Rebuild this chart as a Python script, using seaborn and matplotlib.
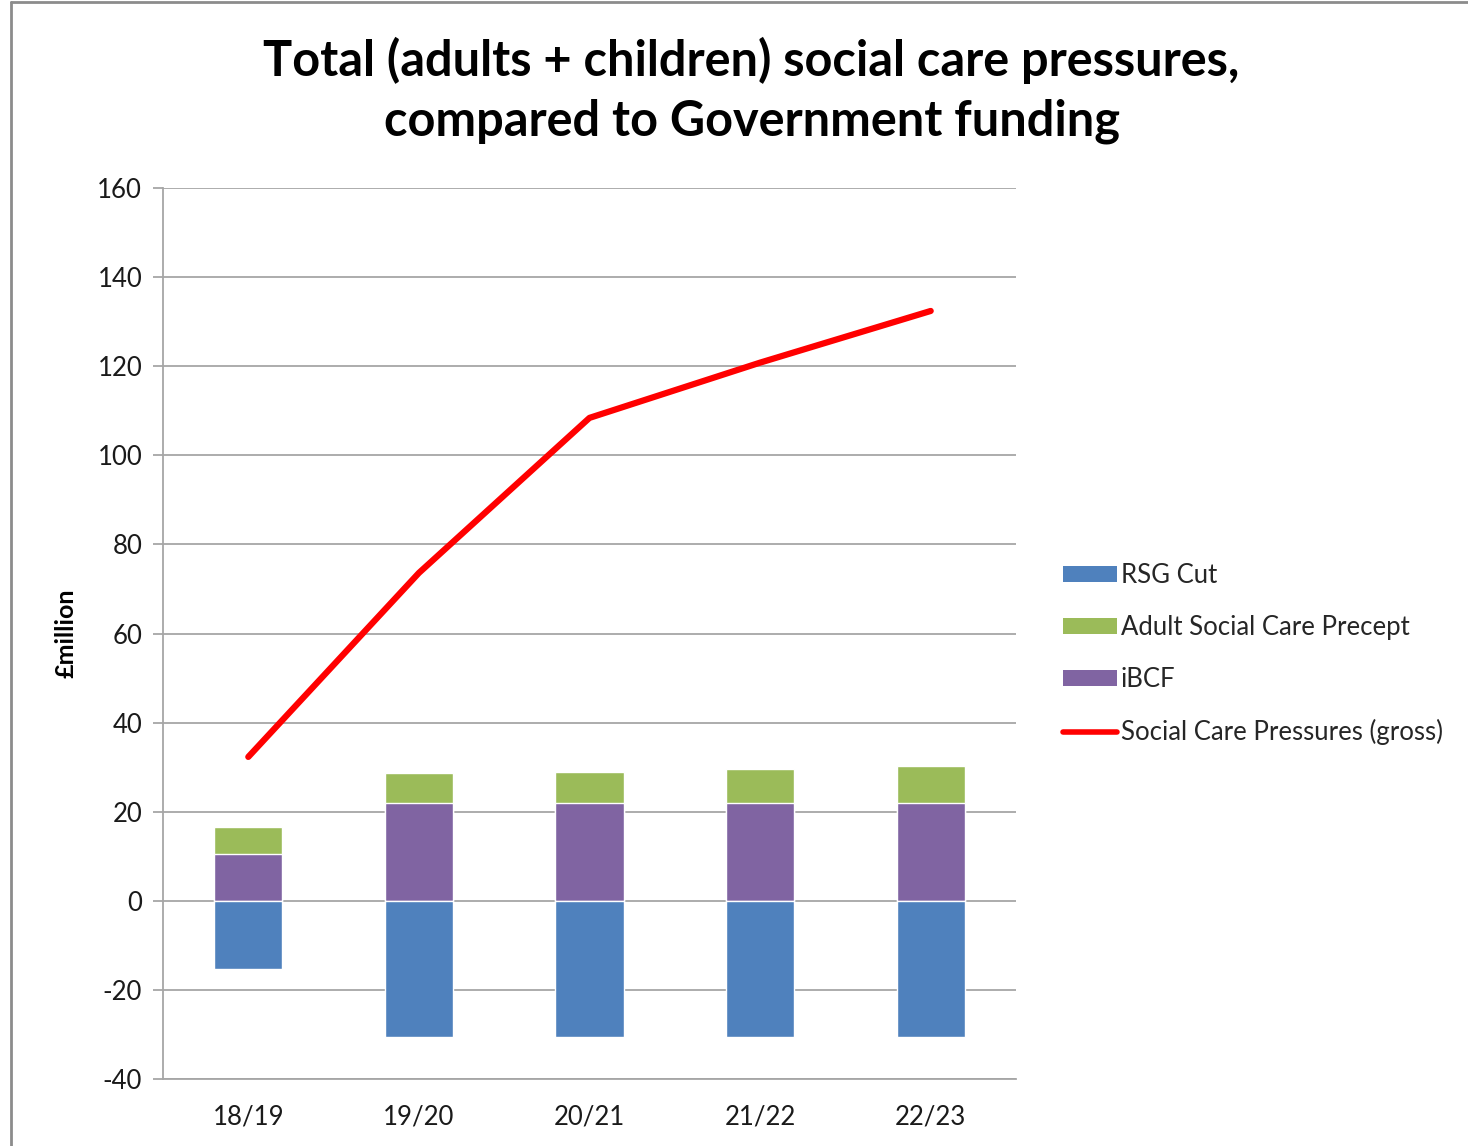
import numpy as np
import pandas as pd
import matplotlib
matplotlib.use("Agg")
import matplotlib.pyplot as plt
import seaborn as sns
from matplotlib.patches import Patch
from matplotlib.lines import Line2D

years = ["18/19", "19/20", "20/21", "21/22", "22/23"]
rsg_cut = [-15.2, -30.6, -30.6, -30.6, -30.6]
ibcf = [10.6, 22.0, 22.0, 22.0, 22.0]
asc_precept = [6.0, 6.6, 6.9, 7.5, 8.2]
pressures = [32.3, 73.6, 108.4, 120.8, 132.4]

c_rsg = "#4f81bd"
c_asc = "#9bbb59"
c_ibcf = "#8064a2"
c_line = "#ff0000"

sns.set_theme(style="white")
plt.rcParams['font.family'] = ['Lato', 'DejaVu Sans']
plt.rcParams['axes.unicode_minus'] = False

fig = plt.figure(figsize=(14.68, 11.46), dpi=100)
ax = fig.add_axes([163/1468, 1 - 1079/1146, (1016-163)/1468, (1079-188)/1146])

df = pd.DataFrame({"year": years, "rsg": rsg_cut, "ibcf": ibcf,
                   "asc": asc_precept, "pressures": pressures})
df["top"] = df["ibcf"] + df["asc"]

sns.barplot(data=df, x="year", y="top", color=c_asc, saturation=1, width=0.4,
            ax=ax, zorder=3)
sns.barplot(data=df, x="year", y="ibcf", color=c_ibcf, saturation=1, width=0.4,
            ax=ax, zorder=3)
sns.barplot(data=df, x="year", y="rsg", color=c_rsg, saturation=1, width=0.4,
            ax=ax, zorder=3)
sns.lineplot(x=np.arange(len(years)), y=df["pressures"].values, color=c_line,
             linewidth=4.5, ax=ax, zorder=4, solid_capstyle="round")

ax.set_xlim(-0.5, 4.5)
ax.set_ylim(-40, 160)
ax.set_yticks(np.arange(-40, 161, 20))
ax.yaxis.grid(True, color="#a6a6a6", linewidth=1.3, zorder=0)
ax.set_axisbelow(True)
for s in ["top", "right"]:
    ax.spines[s].set_visible(False)
for s in ["left", "bottom"]:
    ax.spines[s].set_color("#a6a6a6")
    ax.spines[s].set_linewidth(1.3)

ax.set_xticks(np.arange(len(years)))
ax.set_xticklabels(years)
ax.set_xticks(np.arange(-0.5, 4.6, 1), minor=True)
ax.tick_params(axis="x", which="major", length=0, labelsize=18.5, pad=18, labelcolor="#1a1a1a")
ax.tick_params(axis="x", which="minor", length=7, width=1.3, color="#a6a6a6", direction="out")
ax.tick_params(axis="y", which="major", length=7, width=1.3, color="#a6a6a6", labelsize=18.5,
               pad=8, left=True, labelcolor="#1a1a1a")
ax.set_xlabel("")
ax.set_ylabel("£million", fontsize=18, fontweight="bold", color="#000000")
ax.yaxis.set_label_coords((78 - 163) / 853, 0.5)

fig.text(0.512, 1 - 60/1146, "Total (adults + children) social care pressures,",
         ha="center", va="center", fontsize=35, fontweight="bold", color="#000000")
fig.text(0.512, 1 - 121/1146, "compared to Government funding",
         ha="center", va="center", fontsize=35, fontweight="bold", color="#000000")

handles = [Patch(facecolor=c_rsg, edgecolor="none"),
           Patch(facecolor=c_asc, edgecolor="none"),
           Patch(facecolor=c_ibcf, edgecolor="none"),
           Line2D([0], [0], color=c_line, linewidth=4)]
labels = ["RSG Cut", "Adult Social Care Precept", "iBCF", "Social Care Pressures (gross)"]
leg = fig.legend(handles, labels, loc="center left",
                 bbox_to_anchor=(1040/1468, 1 - 654/1146), frameon=False,
                 fontsize=18.5, handlelength=2.1, handleheight=0.55, labelspacing=1.05,
                 handletextpad=0.15)

# outer chart border (left and top)
fig.add_artist(Line2D([11/1468, 11/1468], [0, 1 - 2/1146], transform=fig.transFigure,
                      color="#8c8c8c", linewidth=2))
fig.add_artist(Line2D([11/1468, 1], [1 - 2/1146, 1 - 2/1146], transform=fig.transFigure,
                      color="#8c8c8c", linewidth=2))

fig.savefig("out.png", dpi=100, facecolor="white")
